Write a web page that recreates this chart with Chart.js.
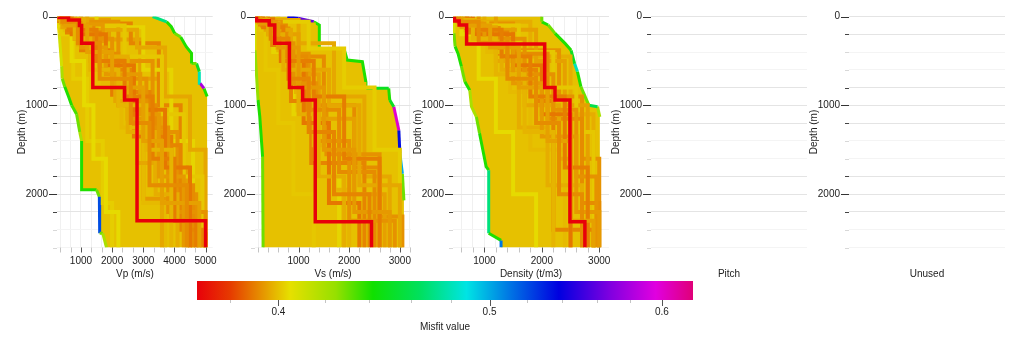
<!DOCTYPE html>
<html><head><meta charset="utf-8">
<script src="https://cdn.jsdelivr.net/npm/chart.js@4/dist/chart.umd.min.js"></script>
<style>
html,body{margin:0;padding:0;background:#fff;width:1024px;height:347px;overflow:hidden;position:relative}
canvas{position:absolute}
</style></head><body>
<canvas id="p0" width="220" height="290" style="left:0px;top:0px"></canvas>
<canvas id="p1" width="220" height="290" style="left:198px;top:0px"></canvas>
<canvas id="p2" width="220" height="290" style="left:396px;top:0px"></canvas>
<canvas id="p3" width="220" height="290" style="left:594px;top:0px"></canvas>
<canvas id="p4" width="220" height="290" style="left:792px;top:0px"></canvas>
<canvas id="cb" width="600" height="77" style="left:150px;top:270px"></canvas>
<script>
// ---------------- DATA ----------------
const depthMax = 2600;
const depthTicks = [0,200,400,600,800,1000,1200,1400,1600,1800,2000,2200,2400,2600];
const depthLabels = [0,1000,2000];

const vpRange = [230, 5230];
const vsRange = [140, 3220];
const rhoRange = [453, 3170];
const vpTicks = [333,667,1000,1333,1667,2000,2333,2667,3000,3333,3667,4000,4333,4667,5000];
const vpLabels = [1000,2000,3000,4000,5000];
const vsTicks = [200,400,600,800,1000,1200,1400,1600,1800,2000,2200,2400,2600,2800,3000,3200];
const vsLabels = [1000,2000,3000];
const rhoTicks = [600,800,1000,1200,1400,1600,1800,2000,2200,2400,2600,2800,3000];
const rhoLabels = [1000,2000,3000];

const misfitRange = [0.367, 0.62];
const misfitTicks = [0.38,0.40,0.42,0.44,0.46,0.48,0.50,0.52,0.54,0.56,0.58,0.60];
const misfitLabels = [0.4,0.5,0.6];
const paletteValues = [0.367,0.38,0.39,0.398,0.405,0.425,0.442,0.465,0.488,0.512,0.538,0.568,0.596,0.62];
const paletteColors = ['#e8000a','#e63a00','#e67e00','#e6b400','#e6e000','#96e000','#10e000','#00e060','#00e4e4','#0070e4','#0000e0','#8000e0','#e000e0','#e00078'];

// envelopes (outer limits of all tested profiles) and misfit of the profile seen on each edge segment
const vpLeftDepth  = [0,190,560,700,790,900,1000,1100,1300,1400,1950,1950,2030,2440,2440,2600];
const vpLeftVel    = [240,300,380,400,480,600,700,860,960,1020,1020,1500,1590,1600,1700,1820];
const vpLeftEdge   = [0.404,0.41,0.42,0.43,0.44,0.44,0.435,0.43,0.42,0.44,0.44,0.43,0.52,0.43,0.42];
const vpRightDepth = [0,60,115,190,230,340,415,530,530,620,750,810,900,2600];
const vpRightVel   = [3300,3750,3900,4010,4200,4380,4550,4550,4710,4800,4820,4950,5050,5050];
const vpRightEdge  = [0.47,0.44,0.44,0.43,0.44,0.44,0.44,0.43,0.45,0.48,0.58,0.44,null];

const vsLeftDepth  = [0,380,940,1130,1580,2600];
const vsLeftVel    = [140,140,200,235,290,300];
const vsLeftEdge   = [0.41,0.425,0.44,0.44,0.43];
const vsRightDepth = [0,20,60,96,370,370,490,508,740,808,808,940,1015,1280,1540,1770,2070,2600];
const vsRightVel   = [780,990,1300,1410,1410,1900,1960,2260,2330,2330,2780,2800,2880,2980,3000,3050,3080,3080];
const vsRightEdge  = [0.54,0.56,0.44,0.44,0.44,0.44,0.44,0.44,0.44,0.45,0.44,0.45,0.6,0.535,0.50,0.43,null];

const rhoLeftDepth  = [0,190,340,415,565,735,830,1015,1130,1315,1690,1730,2440,2520,2600];
const rhoLeftVel    = [460,470,490,540,600,660,745,775,860,915,1030,1075,1075,1290,1290];
const rhoLeftEdge   = [0.41,0.43,0.44,0.44,0.43,0.44,0.42,0.42,0.43,0.44,0.44,0.47,0.44,0.51];
const rhoRightDepth = [0,60,96,190,300,380,530,620,790,1000,1015,1130,2600];
const rhoRightVel   = [2000,2000,2110,2230,2400,2510,2570,2620,2680,2820,2970,3010,3010];
const rhoRightEdge  = [0.43,0.44,0.43,0.44,0.44,0.45,0.48,0.44,0.43,0.46,0.42,null];
const envelopeMisfit = 0.400;

// best model (lowest misfit)
const bestMisfit = 0.367;
const vpBestVel = [300,600,950,1020,1380,2400,2800,5000];
const vpBestDepth = [10,40,100,300,800,940,2300];
const vsBestVel = [170,420,530,820,1080,1330,2440];
const vsBestDepth = [47,96,300,800,940,2310];
const rhoBestVel = [480,560,690,2050,2230,2490,2750];
const rhoBestDepth = [50,96,310,800,940,2310];

// a selection of other tested profiles
const vpProfVel = [
 [400,900,1600,2600,3200,4400],[500,1200,2000,3000,3600,4800],[350,800,1300,2200,3100,3900],
 [600,1500,2400,3300,4000,4700],[450,1000,1800,2900,3500,4300],[700,1800,2700,3700,4500],
 [300,1100,1500,2500,3400,4100],[800,2000,3100,3800,5000],[400,1300,2100,2800,3600],
 [550,1600,2600,3200,4200,4900],[350,900,1700,2300,3000,3700],[650,1400,2200,3400,4600],
 [500,1700,2500,3000,4400],[300,1000,2000,2700,3900,4500],
 [900,2400,3600,4300,4900],[1200,2800,3700,4500,5000],[700,2200,3300,4100,4700],
 [1500,3000,3900,4600],[1000,2600,3500,4200,4800],[600,1900,2900,3600,4400,5000],
 [300,700,1100,1400,1800,2200],[350,750,1200,1700,2000]];
const vpProfDepth = [
 [60,300,700,1200,1900],[100,400,800,1400,2100],[40,250,600,1000,1500],
 [150,500,900,1600,2300],[80,350,650,1100,1800],[200,550,1050,1700],
 [30,200,450,1300,2000],[250,700,1250,2200],[120,500,950,1650],
 [180,600,850,1450,2400],[70,320,750,1250,2100],[130,420,1000,1900],
 [90,480,1150,2050],[50,380,880,1350,2250],
 [100,450,1100,1800],[150,350,900,1500],[60,500,1300,2000],
 [120,600,1400],[80,300,1000,2300],[40,260,700,1700,2450],
 [100,500,1000,1600,2200],[200,700,1400,2100]];
const vpProfMisfit = [0.392,0.395,0.398,0.390,0.394,0.389,0.397,0.393,0.396,0.391,0.399,0.392,0.394,0.390,
 0.401,0.396,0.393,0.403,0.391,0.395,0.404,0.402];

const vsProfVel = [
 [200,450,800,1200,1700,2400],[250,600,1000,1500,2100,2800],[180,400,700,1000,1400,1900],
 [300,700,1300,1900,2600],[220,550,900,1350,2000,2900],[350,850,1600,2200,3000],
 [160,500,650,1100,1600,2200],[280,750,1150,1800,2500],[200,600,950,1300,1700,2000],
 [400,1000,1400,2100,2700],[240,480,850,1250,2300],[190,650,1200,1550,2600,3050],
 [500,1200,1900,2500,3000],[400,1000,1700,2300,2800],[600,1300,1850,2300,2900],
 [300,800,1500,2100,2600],[200,500,900,1400,1800],[250,350,600,900,1300]];
const vsProfDepth = [
 [50,250,700,1300,2000],[80,350,800,1500,2200],[40,200,600,1100,1800],
 [120,500,900,1600],[60,300,750,1400,2300],[150,600,1000,1900],
 [30,180,500,1200,2100],[100,450,1050,1750],[70,380,850,1450,1950],
 [200,650,1150,2000],[90,320,950,1650],[60,420,1000,1550,2250],
 [60,360,800,1500],[40,300,900,1800],[90,380,760,1300],
 [100,450,1000,1700],[60,400,1100,1800],[150,600,1200,2000]];
const vsProfMisfit = [0.391,0.394,0.397,0.390,0.393,0.396,0.389,0.392,0.398,0.395,0.391,0.393,
 0.402,0.396,0.400,0.392,0.403,0.401];

const rhoProfVel = [
 [550,900,1400,1900,2300,2700],[600,1100,1600,2100,2500,2900],[500,800,1200,1700,2200],
 [700,1300,1800,2400,2800],[650,1000,1500,2000,2600,3000],[800,1500,2000,2500],
 [520,950,1300,1600,2100,2700],[900,1700,2200,2600,2950],[600,1200,1700,2300,2500],
 [750,1400,1900,2200,2900],[560,1050,1450,1800,2400],[680,1250,2100,2700,3000],
 [900,1600,2200,2600,2900],[1200,1900,2400,2800],[700,1500,2300,2700,3000],
 [600,900,1200,1500,1900],[1000,1800,2500,2900]];
const rhoProfDepth = [
 [60,300,700,1200,2000],[100,350,800,1400,2300],[40,250,650,1300],
 [150,450,900,1700],[80,300,750,1350,2200],[200,550,1100],
 [50,280,600,1250,1900],[250,650,1050,1800],[120,500,1000,1600],
 [180,600,950,2400],[70,400,850,1500],[130,420,1150,2100],
 [100,400,800,1300],[150,500,1000],[80,380,900,1600],
 [200,700,1300,2000],[60,450,1100]];
const rhoProfMisfit = [0.392,0.395,0.398,0.390,0.394,0.389,0.397,0.393,0.396,0.391,0.399,0.392,
 0.401,0.395,0.393,0.404,0.397];

// ---------------- HELPERS ----------------
const FONT = {family:"'Liberation Sans', Arial, sans-serif", size:10};
Chart.defaults.font = FONT;
Chart.defaults.color = '#222';

function hexRgb(h){return [parseInt(h.slice(1,3),16),parseInt(h.slice(3,5),16),parseInt(h.slice(5,7),16)];}
function misfitColor(m){
  const lm = Math.log(m);
  if (m <= paletteValues[0]) return paletteColors[0];
  for (let i=1;i<paletteValues.length;i++){
    if (m <= paletteValues[i]){
      const a=Math.log(paletteValues[i-1]), b=Math.log(paletteValues[i]);
      const t=(lm-a)/(b-a);
      const c0=hexRgb(paletteColors[i-1]), c1=hexRgb(paletteColors[i]);
      const c=c0.map((v,k)=>Math.round(v+(c1[k]-v)*t));
      return 'rgb('+c.join(',')+')';
    }
  }
  return paletteColors[paletteColors.length-1];
}
function stepPoints(vel, depth){
  const pts=[];
  for (let i=0;i<vel.length;i++){
    const top = i===0?0:depth[i-1];
    const bot = i<depth.length?depth[i]:depthMax;
    pts.push({x:vel[i],y:top},{x:vel[i],y:bot});
  }
  return pts;
}
function polyPoints(ld, lv, rd, rv){
  const pts = ld.map((d,i)=>({x:lv[i],y:d}));
  for (let i=rd.length-1;i>=0;i--) pts.push({x:rv[i],y:rd[i]});
  return pts;
}
function isIn(v, arr){return arr.some(a=>Math.abs(a-v)<1e-9);}

function makeTickPlugin(cfg){
  return {
    id:'tickMarks',
    afterDraw(chart){
      const ctx=chart.ctx, a=chart.chartArea;
      ctx.save(); ctx.lineWidth=1;
      if (cfg.y){
        const s=chart.scales.y;
        cfg.y.forEach(v=>{
          const p=Math.round(s.getPixelForValue(v))+0.5;
          const m=v%1000;
          let len=4,col='#d8d8d8';
          if (m===0){len=8;col='#333';} else if (m===200||m===800){col='#444';}
          ctx.strokeStyle=col; ctx.beginPath(); ctx.moveTo(a.left-len,p); ctx.lineTo(a.left,p); ctx.stroke();
        });
      }
      if (cfg.x){
        const s=chart.scales.x;
        cfg.x.forEach(v=>{
          const p=Math.round(s.getPixelForValue(v))+0.5;
          const major=isIn(v,cfg.xMajor);
          ctx.strokeStyle=major?'#555':'#c4c4c4';
          ctx.beginPath(); ctx.moveTo(p,a.bottom); ctx.lineTo(p,a.bottom+(major?cfg.majorLen:cfg.minorLen)); ctx.stroke();
        });
      }
      ctx.restore();
    }
  };
}
// fills the envelope polygon through the points the library positioned on its scales
function makeEnvFillPlugin(getIndex, color){
  return {
    id:'envFill',
    beforeDatasetDraw(chart, args){
      if (args.index !== getIndex()) return;
      const pts = chart.getDatasetMeta(args.index).data;
      if (!pts.length) return;
      const ctx = chart.ctx, a = chart.chartArea;
      ctx.save();
      ctx.beginPath(); ctx.rect(a.left, a.top, a.right-a.left, a.bottom-a.top); ctx.clip();
      ctx.beginPath();
      ctx.moveTo(pts[0].x, pts[0].y);
      for (let i=1;i<pts.length;i++) ctx.lineTo(pts[i].x, pts[i].y);
      ctx.closePath();
      ctx.fillStyle = color;
      ctx.fill();
      ctx.restore();
    }
  };
}

function makePanel(id, p){
  const datasets=[];
  let envIndex=-1;
  if (p.best){
    datasets.push({data:stepPoints(p.best[0],p.best[1]), showLine:true, pointRadius:0, borderWidth:3.5,
      borderColor:misfitColor(bestMisfit), borderJoinStyle:'miter', borderCapStyle:'butt', fill:false, order:0, clip:0});
  }
  if (p.prof){
    p.prof[0].forEach((vel,i)=>{
      datasets.push({data:stepPoints(vel,p.prof[1][i]), showLine:true, pointRadius:0, borderWidth:4,
        borderColor:misfitColor(p.prof[2][i]), borderJoinStyle:'miter', borderCapStyle:'butt', fill:false, order:1, clip:0});
    });
  }
  if (p.env){
    const [ld,lv,le,rd,rv,re] = p.env;
    const leftLen = ld.length, rn = rd.length;
    const edge = c => {
      const i = c.p0DataIndex;
      let m = null;
      if (i < leftLen-1) m = le[i];
      else if (i >= leftLen) { const r = rn-1-(i-leftLen); m = r>0 ? re[r-1] : null; }
      return m==null ? 'rgba(0,0,0,0)' : misfitColor(m);
    };
    envIndex = datasets.length;
    datasets.push({data:polyPoints(ld,lv,rd,rv), showLine:true, pointRadius:0, borderWidth:3,
      borderColor:misfitColor(0.43), fill:false, borderJoinStyle:'miter', borderCapStyle:'butt', order:2, clip:0,
      segment:{borderColor:edge}});
  }
  const hasX = !!p.xTicks;
  new Chart(document.getElementById(id), {
    type:'scatter',
    data:{datasets},
    options:{
      responsive:false, animation:false, devicePixelRatio:1,
      layout:{padding:{left:0,right:7,top:16.5,bottom:0}},
      plugins:{legend:{display:false}, tooltip:{enabled:false}},
      scales:{
        x:{type:'linear', min:p.range[0], max:p.range[1],
          afterBuildTicks:s=>{ if(hasX) s.ticks=p.xTicks.map(v=>({value:v})); },
          ticks:{display:hasX, autoSkip:false, maxRotation:0, padding:3, color:'#222',
            callback:v=>isIn(v,p.xLabels||[])?String(v):''},
          grid:{display:hasX, color:'#f0f0f0', tickLength:5, tickColor:'rgba(0,0,0,0)'},
          border:{display:false},
          title:{display:true, text:p.title, color:'#222', padding:{top:0,bottom:10}},
          afterFit:s=>{s.height=42.5;}
        },
        y:{type:'linear', reverse:true, min:0, max:depthMax,
          afterBuildTicks:s=>{s.ticks=depthTicks.map(v=>({value:v}));},
          ticks:{autoSkip:false, padding:1, color:'#222', callback:v=>isIn(v,depthLabels)?String(v):''},
          grid:{color:c=>{const m=c.tick.value%1000; return (m===0||m===200||m===800)?'#e4e4e4':'#f4f4f4';},
            tickLength:8, tickColor:'rgba(0,0,0,0)'},
          border:{display:false},
          title:{display:true, text:'Depth (m)', color:'#222', padding:{top:16,bottom:0}},
          afterFit:s=>{s.width=57;}
        }
      }
    },
    plugins:[makeTickPlugin({y:depthTicks, x:p.xTicks||null, xMajor:p.xLabels||[], majorLen:5, minorLen:5}),
             makeEnvFillPlugin(()=>envIndex, misfitColor(envelopeMisfit))]
  });
}

makePanel('p0',{range:vpRange, xTicks:vpTicks, xLabels:vpLabels, title:'Vp (m/s)',
  env:[vpLeftDepth,vpLeftVel,vpLeftEdge,vpRightDepth,vpRightVel,vpRightEdge], prof:[vpProfVel,vpProfDepth,vpProfMisfit], best:[vpBestVel,vpBestDepth]});
makePanel('p1',{range:vsRange, xTicks:vsTicks, xLabels:vsLabels, title:'Vs (m/s)',
  env:[vsLeftDepth,vsLeftVel,vsLeftEdge,vsRightDepth,vsRightVel,vsRightEdge], prof:[vsProfVel,vsProfDepth,vsProfMisfit], best:[vsBestVel,vsBestDepth]});
makePanel('p2',{range:rhoRange, xTicks:rhoTicks, xLabels:rhoLabels, title:'Density (t/m3)',
  env:[rhoLeftDepth,rhoLeftVel,rhoLeftEdge,rhoRightDepth,rhoRightVel,rhoRightEdge], prof:[rhoProfVel,rhoProfDepth,rhoProfMisfit], best:[rhoBestVel,rhoBestDepth]});
makePanel('p3',{range:[0,1], title:'Pitch'});
makePanel('p4',{range:[0,1], title:'Unused'});

// ---------------- COLOUR BAR ----------------
new Chart(document.getElementById('cb'), {
  type:'bar',
  data:{labels:[''], datasets:[{
    data:[[misfitRange[0], misfitRange[1]]],
    barPercentage:1, categoryPercentage:1, borderWidth:0, borderSkipped:false,
    backgroundColor:c=>{
      const ch=c.chart, a=ch.chartArea, xs=ch.scales.x;
      if(!a||!xs) return paletteColors[4];
      const g=ch.ctx.createLinearGradient(a.left,0,a.right,0);
      paletteValues.forEach((v,i)=>{
        const t=Math.min(1,Math.max(0,(xs.getPixelForValue(v)-a.left)/(a.right-a.left)));
        g.addColorStop(t,paletteColors[i]);
      });
      return g;
    }
  }]},
  options:{
    indexAxis:'y', responsive:false, animation:false, devicePixelRatio:1,
    layout:{padding:{left:47,right:57,top:11,bottom:0}},
    plugins:{legend:{display:false}, tooltip:{enabled:false}},
    scales:{
      x:{type:'logarithmic', min:misfitRange[0], max:misfitRange[1],
        afterBuildTicks:s=>{s.ticks=misfitTicks.map(v=>({value:v}));},
        ticks:{autoSkip:false, maxRotation:0, padding:2, color:'#222',
          callback:v=>isIn(v,misfitLabels)?v.toFixed(1):''},
        grid:{color:'rgba(0,0,0,0)', tickLength:4, tickColor:'rgba(0,0,0,0)'},
        border:{display:false},
        title:{display:true, text:'Misfit value', color:'#222', padding:{top:0,bottom:14}},
        afterFit:s=>{s.height=47;}
      },
      y:{display:false}
    }
  },
  plugins:[makeTickPlugin({y:null, x:misfitTicks, xMajor:misfitLabels, majorLen:6, minorLen:3})]
});
</script>
</body></html>
